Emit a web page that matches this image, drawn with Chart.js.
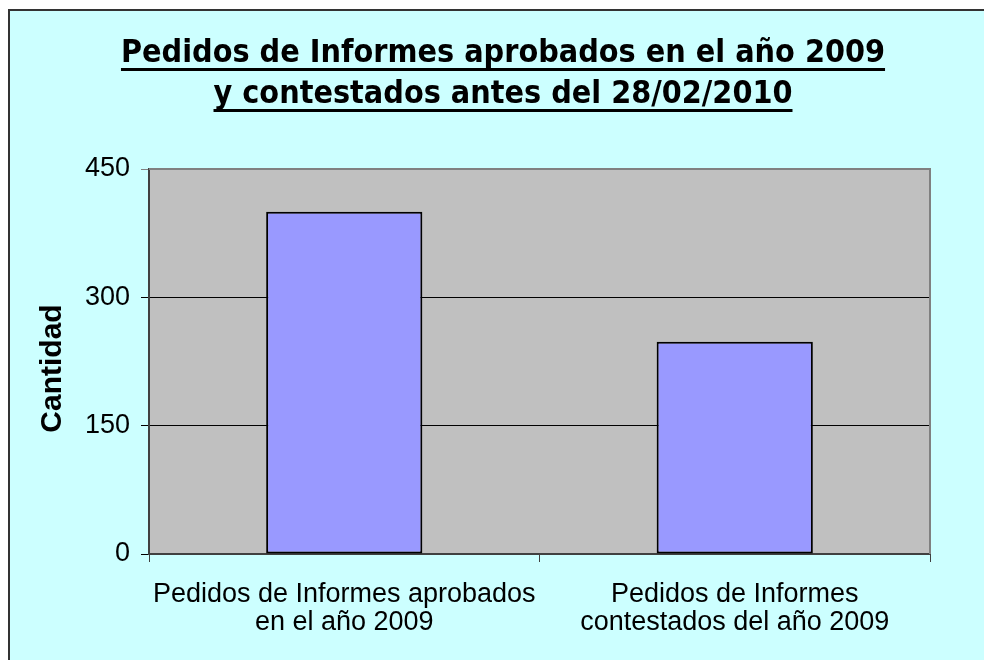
<!DOCTYPE html>
<html>
<head>
<meta charset="utf-8">
<script src="https://cdn.jsdelivr.net/npm/chart.js@4.4.1/dist/chart.umd.min.js"></script>
<style>
    body { margin: 0; background: #ffffff; }
    #frame {
        position: absolute;
        left: 8px;
        top: 9px;
        width: 976px;
        height: 651px;
        box-sizing: border-box;
        background: #ccffff;
        border-left: 2px solid #333333;
        border-top: 2px solid #333333;
    }
    canvas { display: block; }
</style>
</head>
<body>
<div id="frame"><canvas id="pedidos-chart" width="974" height="649"></canvas></div>
<script>
// Chart data
const categories = [
    ['Pedidos de Informes aprobados', 'en el año 2009'],
    ['Pedidos de Informes', 'contestados del año 2009']
];
const cantidad = [400, 248];
const yTicks = [0, 150, 300, 450];
const titleLines = [
    'Pedidos de Informes aprobados en el año 2009',
    'y contestados antes del 28/02/2010'
];
const yAxisTitle = 'Cantidad';

const labelFont = '"Liberation Sans", Arial, sans-serif';

// Grey plot area + top/right border, like the spreadsheet chart
const plotAreaPlugin = {
    id: 'plotArea',
    beforeDraw(chart) {
        const { ctx, chartArea: a } = chart;
        ctx.save();
        ctx.fillStyle = '#c0c0c0';
        ctx.fillRect(a.left, a.top, a.right - a.left, a.bottom - a.top);
        ctx.restore();
    },
    beforeDatasetsDraw(chart) {
        const { ctx, chartArea: a } = chart;
        ctx.save();
        ctx.strokeStyle = '#808080';
        ctx.lineWidth = 2;
        ctx.beginPath();
        ctx.moveTo(a.left, a.top);
        ctx.lineTo(a.right, a.top);
        ctx.lineTo(a.right, a.bottom);
        ctx.stroke();
        ctx.restore();
    }
};

// Underlined two-line title and the vertical axis title
const titlesPlugin = {
    id: 'titles',
    afterDraw(chart) {
        const ctx = chart.ctx;
        const cx = 493;
        const baselines = [51, 92];
        ctx.save();
        ctx.font = 'bold 32px "DejaVu Sans Condensed", "DejaVu Sans", sans-serif';
        ctx.fillStyle = '#000000';
        ctx.textAlign = 'center';
        ctx.textBaseline = 'alphabetic';
        titleLines.forEach((line, i) => {
            const w = ctx.measureText(line).width;
            ctx.fillText(line, cx, baselines[i]);
            ctx.fillRect(cx - w / 2, baselines[i] + 6, w, 3);
        });

        // "Cantidad", rotated, a bit below the middle of the plot
        const a = chart.chartArea;
        ctx.translate(43, (a.top + a.bottom) / 2 + 7);
        ctx.rotate(-Math.PI / 2);
        ctx.font = 'bold 30px ' + labelFont;
        ctx.textBaseline = 'middle';
        ctx.fillText(yAxisTitle, 0, 0);
        ctx.restore();
    }
};

const ctx = document.getElementById('pedidos-chart');

new Chart(ctx, {
    type: 'bar',
    data: {
        labels: categories,
        datasets: [{
            label: 'Cantidad',
            data: cantidad,
            backgroundColor: '#9999ff',
            borderColor: '#000000',
            borderWidth: 2,
            borderSkipped: false,
            barPercentage: 0.4,
            categoryPercentage: 1
        }]
    },
    options: {
        responsive: false,
        animation: false,
        layout: {
            padding: { top: 158, right: 54, bottom: 0, left: 0 }
        },
        plugins: {
            legend: { display: false },
            title: { display: false },
            tooltip: { enabled: false }
        },
        scales: {
            x: {
                offset: true,
                afterFit(scale) { scale.height = 106; },
                grid: {
                    offset: true,
                    drawOnChartArea: false,
                    tickLength: 8,
                    color: '#404040'
                },
                border: { color: '#404040', width: 2 },
                ticks: {
                    color: '#000000',
                    padding: 18,
                    maxRotation: 0,
                    autoSkip: false,
                    font: { family: labelFont, size: 27, lineHeight: 1.05 }
                }
            },
            y: {
                min: yTicks[0],
                max: yTicks[yTicks.length - 1],
                afterFit(scale) { scale.width = 139; },
                afterBuildTicks(scale) {
                    scale.ticks = yTicks.map(v => ({ value: v }));
                },
                grid: {
                    tickLength: 8,
                    color: c => (c.tick && c.tick.value === 450) ? '#808080' : '#000000'
                },
                border: { color: '#404040', width: 2 },
                ticks: {
                    color: '#000000',
                    padding: 11,
                    font: { family: labelFont, size: 27 }
                }
            }
        }
    },
    plugins: [plotAreaPlugin, titlesPlugin]
});
</script>
</body>
</html>
